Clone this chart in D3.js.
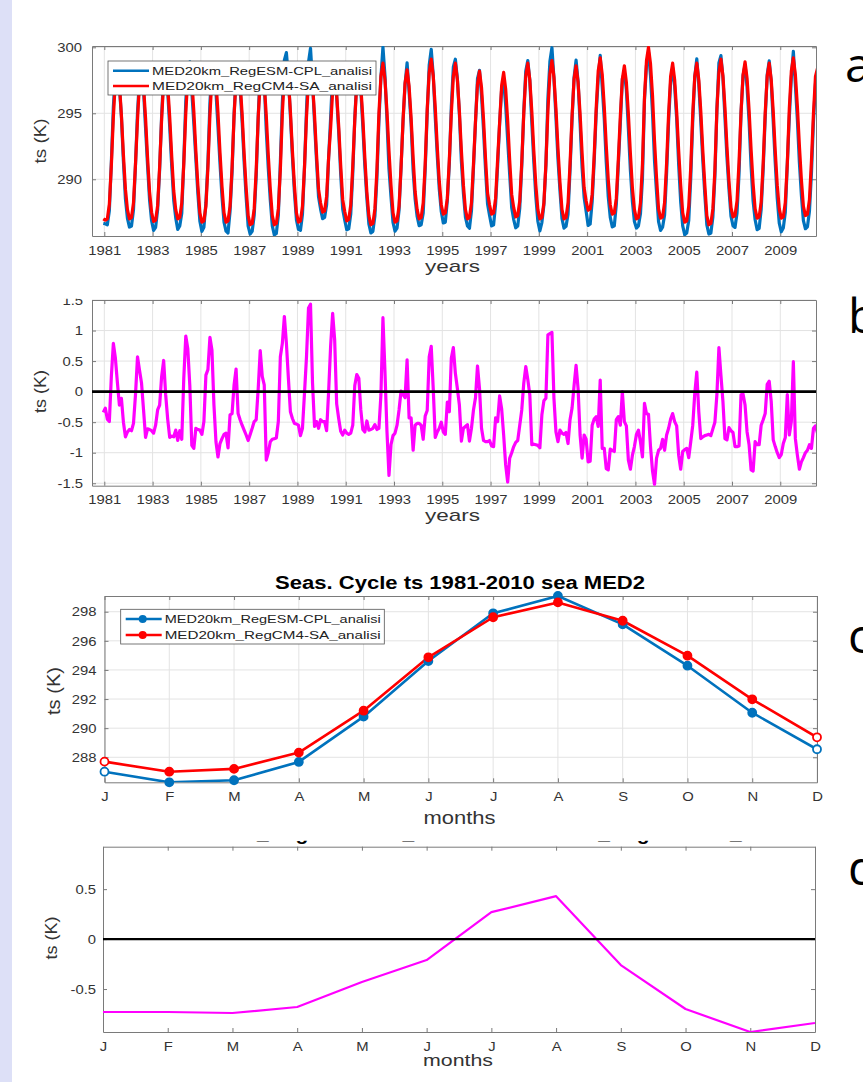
<!DOCTYPE html>
<html>
<head>
<meta charset="utf-8">
<script src="https://cdn.jsdelivr.net/npm/d3@7"></script>
<style>
    body { margin: 0; background: #fff; }
    svg { display: block; }
</style>
</head>
<body>
<svg id="fig" width="863" height="1082"></svg>
<script>
// ---- data ----
const startYear = 1981;
const yearTicks = [1981, 1983, 1985, 1987, 1989, 1991, 1993, 1995, 1997, 1999, 2001, 2003, 2005, 2007, 2009];
const monthLabels = ['J', 'F', 'M', 'A', 'M', 'J', 'J', 'A', 'S', 'O', 'N', 'D'];
const monthTicks = [1, 2, 3, 4, 5, 6, 7, 8, 9, 10, 11, 12];
const tsTicksA = [290, 295, 300];
const diffTicksB = [-1.5, -1, -0.5, 0, 0.5, 1, 1.5];
const cycleTicksC = [288, 290, 292, 294, 296, 298];
const diffTicksD = [-0.5, 0, 0.5];
const seriesNames = ['MED20km_RegESM-CPL_analisi', 'MED20km_RegCM4-SA_analisi'];
const cycleTitle = 'Seas. Cycle ts 1981-2010 sea MED2';
const diffTitle = 'MED20km_RegESM-CPL_analisi - MED20km_RegCM4-SA_analisi';
const panelLetters = ['a', 'b', 'c', 'd'];

// monthly ts (K) from Jan 1981, one row per year
const regesmTs = [
    286.66, 286.63, 286.55, 287.61, 291.30, 295.49, 298.05, 298.65, 297.03, 294.74, 291.35, 288.51,
    287.04, 286.38, 286.46, 287.68, 291.10, 295.07, 297.65, 298.44, 296.75, 293.90, 291.04, 288.43,
    286.86, 286.12, 286.35, 287.70, 290.73, 294.85, 297.91, 298.35, 296.70, 294.00, 291.02, 288.41,
    287.07, 286.20, 286.46, 287.42, 291.37, 295.91, 298.50, 298.90, 296.67, 294.22, 291.55, 288.93,
    286.82, 286.05, 286.36, 288.22, 291.26, 295.79, 298.38, 298.48, 296.63, 293.98, 291.20, 288.68,
    286.75, 286.07, 285.93, 287.57, 290.54, 294.91, 297.97, 298.24, 296.89, 294.40, 291.32, 288.64,
    286.45, 285.85, 286.05, 287.26, 290.24, 294.75, 298.17, 298.75, 297.36, 293.73, 290.85, 288.43,
    286.47, 285.78, 285.89, 287.26, 291.27, 295.79, 299.03, 299.60, 297.77, 294.82, 291.71, 289.03,
    286.92, 286.20, 286.13, 287.35, 290.87, 295.27, 298.87, 299.93, 297.39, 294.28, 291.36, 288.65,
    287.74, 287.01, 287.11, 288.06, 291.65, 294.65, 297.98, 298.55, 296.25, 293.61, 290.40, 287.74,
    286.92, 286.17, 286.25, 287.37, 290.45, 294.60, 297.58, 298.52, 296.75, 294.03, 290.99, 288.57,
    286.62, 285.93, 286.05, 287.21, 290.08, 294.40, 297.75, 300.01, 297.88, 294.50, 290.78, 288.68,
    286.73, 286.07, 286.30, 287.65, 290.91, 294.45, 297.20, 298.82, 296.62, 294.22, 290.69, 288.50,
    287.18, 286.48, 286.55, 287.42, 290.75, 294.99, 298.67, 299.84, 297.90, 294.70, 291.79, 289.25,
    287.55, 286.69, 286.75, 288.38, 291.17, 295.55, 298.52, 299.10, 297.60, 294.93, 291.34, 288.95,
    287.13, 286.46, 286.29, 287.60, 290.85, 294.30, 297.62, 298.25, 296.35, 293.75, 290.73, 288.13,
    287.25, 286.46, 286.55, 288.12, 291.01, 294.23, 296.82, 297.39, 295.65, 292.97, 290.36, 287.85,
    286.95, 286.32, 286.45, 287.80, 291.00, 295.14, 298.21, 299.00, 297.50, 294.28, 291.29, 288.68,
    286.82, 286.08, 286.72, 288.05, 291.04, 296.13, 298.95, 299.97, 297.64, 294.69, 291.53, 289.12,
    287.02, 286.30, 286.43, 287.35, 290.69, 294.53, 297.70, 299.03, 297.40, 294.24, 290.86, 288.64,
    287.57, 286.50, 286.61, 288.30, 291.35, 294.99, 297.63, 299.39, 297.02, 294.62, 291.29, 288.67,
    287.11, 286.39, 286.47, 288.09, 291.09, 294.25, 297.60, 298.11, 296.79, 293.83, 290.68, 288.31,
    286.80, 286.30, 286.47, 287.38, 290.08, 296.01, 298.64, 299.63, 297.85, 295.05, 291.38, 289.01,
    286.79, 286.12, 286.37, 287.29, 290.49, 294.40, 297.35, 298.44, 297.06, 294.59, 291.11, 288.28,
    286.47, 285.80, 285.92, 286.87, 290.08, 294.45, 297.77, 299.12, 297.22, 294.38, 291.41, 288.83,
    286.54, 285.85, 285.93, 287.14, 290.20, 295.25, 298.82, 299.37, 297.69, 294.68, 291.66, 289.26,
    287.21, 286.48, 286.35, 287.45, 290.41, 295.05, 297.86, 298.68, 296.99, 294.38, 290.97, 288.35,
    286.93, 286.18, 286.28, 287.70, 290.74, 294.64, 297.92, 298.97, 297.39, 294.36, 291.25, 288.55,
    286.67, 286.02, 286.30, 287.50, 291.15, 294.69, 297.71, 299.69, 297.18, 294.51, 291.28, 288.80,
    286.87, 286.25, 286.39, 287.58, 290.47, 294.40, 297.24, 297.72
];
const regcmTs = [
    287.0, 286.9, 287.0, 288.1, 291.05, 294.7, 297.5, 298.5, 297.25, 294.85, 291.85, 289.25,
    287.7, 287.0, 287.1, 288.2, 291.15, 294.5, 297.3, 298.3, 297.05, 294.65, 291.65, 289.05,
    287.5, 286.8, 286.9, 288.0, 290.95, 294.6, 297.4, 298.4, 297.15, 294.75, 291.75, 289.15,
    287.7, 287.0, 287.1, 288.2, 291.15, 295.0, 297.8, 298.8, 297.55, 295.15, 292.15, 289.55,
    287.45, 286.75, 286.85, 287.95, 290.9, 294.9, 297.7, 298.7, 297.45, 295.05, 292.05, 289.45,
    287.45, 286.75, 286.85, 287.95, 290.9, 294.8, 297.6, 298.6, 297.35, 294.95, 291.95, 289.35,
    287.25, 286.55, 286.65, 287.75, 290.7, 294.7, 297.5, 298.5, 297.25, 294.85, 291.85, 289.25,
    287.25, 286.55, 286.65, 287.75, 290.7, 295.0, 297.8, 298.8, 297.55, 295.15, 292.15, 289.55,
    287.45, 286.75, 286.85, 287.95, 290.9, 294.7, 297.5, 298.5, 297.25, 294.85, 291.85, 289.25,
    288.2, 287.5, 287.6, 288.7, 291.65, 293.9, 296.7, 297.7, 296.45, 294.05, 291.05, 288.45,
    287.55, 286.85, 286.95, 288.05, 291.0, 294.5, 297.3, 298.3, 297.05, 294.65, 291.65, 289.05,
    287.25, 286.55, 286.65, 287.75, 290.7, 295.0, 297.8, 298.8, 297.55, 295.15, 292.15, 289.55,
    287.45, 286.75, 286.85, 287.95, 290.9, 294.5, 297.3, 298.3, 297.05, 294.65, 291.65, 289.05,
    287.7, 287.0, 287.1, 288.2, 291.15, 295.3, 298.1, 299.1, 297.85, 295.45, 292.45, 289.85,
    288.05, 287.35, 287.45, 288.55, 291.5, 295.0, 297.8, 298.8, 297.55, 295.15, 292.15, 289.55,
    287.7, 287.0, 287.1, 288.2, 291.15, 294.4, 297.2, 298.2, 296.95, 294.55, 291.55, 288.95,
    288.05, 287.35, 287.45, 288.55, 291.5, 294.3, 297.1, 298.1, 296.85, 294.45, 291.45, 288.85,
    287.85, 287.15, 287.25, 288.35, 291.3, 295.0, 297.8, 298.8, 297.55, 295.15, 292.15, 289.55,
    287.7, 287.0, 287.1, 288.2, 291.15, 295.2, 298.0, 299.0, 297.75, 295.35, 292.35, 289.75,
    287.7, 287.0, 287.1, 288.2, 291.15, 294.8, 297.6, 298.6, 297.35, 294.95, 291.95, 289.35,
    288.35, 287.65, 287.75, 288.85, 291.8, 295.4, 298.2, 299.2, 297.95, 295.55, 292.55, 289.95,
    288.05, 287.35, 287.45, 288.55, 291.5, 294.8, 297.6, 298.6, 297.35, 294.95, 291.95, 289.35,
    287.7, 287.0, 287.1, 288.2, 291.15, 296.2, 299.0, 300.0, 298.75, 296.35, 292.9, 290.1,
    287.75, 287.05, 287.15, 288.25, 291.2, 295.0, 297.8, 298.8, 297.55, 295.15, 292.15, 289.55,
    287.45, 286.75, 286.85, 287.95, 290.9, 295.0, 297.8, 298.8, 297.55, 295.15, 292.15, 289.55,
    287.25, 286.55, 286.65, 287.75, 290.7, 295.3, 298.1, 299.1, 297.85, 295.45, 292.45, 289.85,
    287.85, 287.15, 287.25, 288.35, 291.3, 295.1, 297.9, 298.9, 297.65, 295.25, 292.25, 289.65,
    287.75, 287.05, 287.15, 288.25, 291.2, 295.0, 297.8, 298.8, 297.55, 295.15, 292.15, 289.55,
    287.75, 287.05, 287.15, 288.25, 291.2, 295.4, 298.2, 299.2, 297.95, 295.55, 292.55, 289.95,
    287.95, 287.25, 287.35, 288.45, 291.4, 295.0, 297.8, 298.4
];
// RegESM minus RegCM4 (K)
const diffTs = [
    -0.34, -0.27, -0.45, -0.49, 0.25, 0.79, 0.55, 0.15, -0.22, -0.11, -0.50, -0.74,
    -0.66, -0.62, -0.64, -0.52, -0.05, 0.57, 0.35, 0.14, -0.30, -0.75, -0.61, -0.62,
    -0.64, -0.68, -0.55, -0.30, -0.22, 0.25, 0.51, -0.05, -0.45, -0.75, -0.73, -0.74,
    -0.63, -0.80, -0.64, -0.78, 0.22, 0.91, 0.70, 0.10, -0.88, -0.93, -0.60, -0.62,
    -0.63, -0.70, -0.49, 0.27, 0.36, 0.89, 0.68, -0.22, -0.82, -1.07, -0.85, -0.77,
    -0.70, -0.68, -0.92, -0.38, -0.36, 0.11, 0.37, -0.36, -0.46, -0.55, -0.63, -0.71,
    -0.80, -0.70, -0.60, -0.49, -0.46, 0.05, 0.67, 0.25, 0.11, -1.12, -1.00, -0.82,
    -0.78, -0.77, -0.76, -0.49, 0.57, 0.79, 1.23, 0.80, 0.22, -0.33, -0.44, -0.52,
    -0.53, -0.55, -0.72, -0.60, -0.03, 0.57, 1.37, 1.43, 0.14, -0.57, -0.49, -0.60,
    -0.46, -0.49, -0.49, -0.64, 0.00, 0.75, 1.28, 0.85, -0.20, -0.44, -0.65, -0.71,
    -0.63, -0.68, -0.70, -0.68, -0.55, 0.10, 0.28, 0.22, -0.30, -0.62, -0.66, -0.48,
    -0.63, -0.62, -0.60, -0.54, -0.62, -0.60, -0.05, 1.21, 0.33, -0.65, -1.37, -0.87,
    -0.72, -0.68, -0.55, -0.30, 0.01, -0.05, -0.10, 0.52, -0.43, -0.43, -0.96, -0.55,
    -0.52, -0.52, -0.55, -0.78, -0.40, -0.31, 0.57, 0.74, 0.05, -0.75, -0.66, -0.60,
    -0.50, -0.66, -0.70, -0.17, -0.33, 0.55, 0.72, 0.30, 0.05, -0.22, -0.81, -0.60,
    -0.57, -0.54, -0.81, -0.60, -0.30, -0.10, 0.42, 0.05, -0.60, -0.80, -0.82, -0.82,
    -0.80, -0.89, -0.90, -0.43, -0.49, -0.07, -0.28, -0.71, -1.20, -1.48, -1.09, -1.00,
    -0.90, -0.83, -0.80, -0.55, -0.30, 0.14, 0.41, 0.20, -0.05, -0.87, -0.86, -0.87,
    -0.88, -0.92, -0.38, -0.15, -0.11, 0.93, 0.95, 0.97, -0.11, -0.66, -0.82, -0.63,
    -0.68, -0.70, -0.67, -0.85, -0.46, -0.27, 0.10, 0.43, 0.05, -0.71, -1.09, -0.71,
    -0.78, -1.15, -1.14, -0.55, -0.45, -0.41, -0.57, 0.19, -0.93, -0.93, -1.26, -1.28,
    -0.94, -0.96, -0.98, -0.46, -0.41, -0.55, 0.00, -0.49, -0.56, -1.12, -1.27, -1.04,
    -0.90, -0.70, -0.63, -0.82, -1.07, -0.19, -0.36, -0.37, -0.90, -1.30, -1.52, -1.09,
    -0.96, -0.93, -0.78, -0.96, -0.71, -0.60, -0.45, -0.36, -0.49, -0.56, -1.04, -1.27,
    -0.98, -0.95, -0.93, -1.08, -0.82, -0.55, -0.03, 0.32, -0.33, -0.77, -0.74, -0.72,
    -0.71, -0.70, -0.72, -0.61, -0.50, -0.05, 0.72, 0.27, -0.16, -0.77, -0.79, -0.59,
    -0.64, -0.67, -0.90, -0.90, -0.89, -0.05, -0.04, -0.22, -0.66, -0.87, -1.28, -1.30,
    -0.82, -0.87, -0.87, -0.55, -0.46, -0.36, 0.12, 0.17, -0.16, -0.79, -0.90, -1.00,
    -1.08, -1.03, -0.85, -0.75, -0.05, -0.71, -0.49, 0.49, -0.77, -1.04, -1.27, -1.15,
    -1.08, -1.00, -0.96, -0.87, -0.93, -0.60, -0.56, -0.68
];

// 1981-2010 seasonal cycle
const regesmCycle = [287.01, 286.28, 286.42, 287.68, 290.79, 294.61, 297.89, 299.08, 297.13, 294.29, 291.06, 288.55];
const regcmCycle = [287.70, 287.01, 287.20, 288.32, 291.20, 294.87, 297.62, 298.64, 297.38, 294.98, 291.98, 289.37];
const diffCycle = [-0.73, -0.73, -0.74, -0.68, -0.43, -0.21, 0.27, 0.43, -0.26, -0.70, -0.93, -0.84];

// ---- drawing ----
const FONT = '"Liberation Sans", Arial, Helvetica, sans-serif';
const AXIS_COLOR = '#7a7a7a';
const GRID_COLOR = '#e3e3e3';
const TEXT_COLOR = '#333';
const BLUE = '#0072bd';
const RED = '#ff0000';
const MAGENTA = '#ff00ff';
const monthTime = i => startYear + (i - 0.5) / 12;

const svg = d3.select('#fig').attr('font-family', FONT);
const defs = svg.append('defs');

svg.append('rect')
    .attr('x', 0).attr('y', 0)
    .attr('width', 12).attr('height', 1082)
    .attr('fill', '#dde0f7');

// stretch text horizontally, the picture is wider than tall
function stretch(sel, k) {
    sel.each(function () {
        const w = this.getComputedTextLength();
        d3.select(this).attr('textLength', w * k).attr('lengthAdjust', 'spacingAndGlyphs');
    });
}

class Panel {
    constructor(_config) {
        this.config = _config;
        this.initVis();
    }

    initVis() {
        let vis = this;
        const c = vis.config;
        vis.xScale = d3.scaleLinear().domain(c.xDomain).range([c.left, c.right]);
        vis.yScale = d3.scaleLinear().domain(c.yDomain).range([c.bottom, c.top]);

        vis.g = svg.append('g');
        if (c.cutTop) {
            defs.append('clipPath').attr('id', c.id + '-cut')
                .append('rect').attr('x', 0).attr('y', c.cutTop).attr('width', 863).attr('height', 1082);
            vis.g.attr('clip-path', `url(#${c.id}-cut)`);
        }
        defs.append('clipPath').attr('id', c.id + '-plot')
            .append('rect')
            .attr('x', c.left).attr('y', c.top)
            .attr('width', c.right - c.left).attr('height', c.bottom - c.top);

        vis.g.append('rect')
            .attr('x', c.left).attr('y', c.top)
            .attr('width', c.right - c.left).attr('height', c.bottom - c.top)
            .attr('fill', '#fff');

        if (c.grid) {
            vis.g.append('g').selectAll('line').data(c.xTicks).join('line')
                .attr('x1', d => vis.xScale(d)).attr('x2', d => vis.xScale(d))
                .attr('y1', c.top).attr('y2', c.bottom)
                .attr('stroke', GRID_COLOR);
            vis.g.append('g').selectAll('line').data(c.yTicks).join('line')
                .attr('x1', c.left).attr('x2', c.right)
                .attr('y1', d => vis.yScale(d)).attr('y2', d => vis.yScale(d))
                .attr('stroke', GRID_COLOR);
        }

        vis.drawAxes();
        vis.plot = vis.g.append('g').attr('clip-path', `url(#${c.id}-plot)`);
    }

    drawAxes() {
        let vis = this;
        const c = vis.config;
        const style = (ax) => {
            ax.attr('font-family', FONT).attr('font-size', 13);
            ax.select('.domain').attr('stroke', AXIS_COLOR);
            ax.selectAll('.tick line').attr('stroke', AXIS_COLOR);
            ax.selectAll('.tick text').attr('fill', TEXT_COLOR);
            stretch(ax.selectAll('.tick text'), 1.14);
        };
        vis.g.append('g')
            .attr('transform', `translate(0,${c.bottom})`)
            .call(d3.axisBottom(vis.xScale).tickValues(c.xTicks).tickFormat(c.xFormat)
                .tickSizeInner(-4).tickSizeOuter(0).tickPadding(c.xPad))
            .call(style);
        vis.g.append('g')
            .attr('transform', `translate(0,${c.top})`)
            .call(d3.axisTop(vis.xScale).tickValues(c.xTicks).tickFormat('')
                .tickSizeInner(-4).tickSizeOuter(0))
            .call(style);
        vis.g.append('g')
            .attr('transform', `translate(${c.left},0)`)
            .call(d3.axisLeft(vis.yScale).tickValues(c.yTicks).tickFormat(d => String(d))
                .tickSizeInner(-4).tickSizeOuter(0).tickPadding(c.yPad))
            .call(style);
        vis.g.append('g')
            .attr('transform', `translate(${c.right},0)`)
            .call(d3.axisRight(vis.yScale).tickValues(c.yTicks).tickFormat('')
                .tickSizeInner(-4).tickSizeOuter(0))
            .call(style);

        vis.g.append('text')
            .attr('x', c.xLabel.x).attr('y', c.xLabel.y)
            .attr('text-anchor', 'middle')
            .attr('font-size', c.xLabel.size)
            .attr('fill', TEXT_COLOR)
            .attr('textLength', c.xLabel.width).attr('lengthAdjust', 'spacingAndGlyphs')
            .text(c.xLabel.text);
        vis.g.append('text')
            .attr('transform', `translate(${c.yLabel.x},${c.yLabel.y}) rotate(-90)`)
            .attr('text-anchor', 'middle')
            .attr('font-size', c.yLabel.size)
            .attr('fill', TEXT_COLOR)
            .attr('textLength', c.yLabel.width).attr('lengthAdjust', 'spacingAndGlyphs')
            .text('ts (K)');
    }

    line(values, xOf, color, width) {
        let vis = this;
        const gen = d3.line()
            .x((d, i) => vis.xScale(xOf(i)))
            .y(d => vis.yScale(d));
        vis.plot.append('path')
            .datum(values)
            .attr('d', gen)
            .attr('fill', 'none')
            .attr('stroke', color)
            .attr('stroke-width', width)
            .attr('stroke-linejoin', 'round');
    }

    zeroLine(width) {
        let vis = this;
        vis.plot.append('line')
            .attr('x1', vis.config.left).attr('x2', vis.config.right)
            .attr('y1', vis.yScale(0)).attr('y2', vis.yScale(0))
            .attr('stroke', '#000')
            .attr('stroke-width', width);
    }

    markers(values, color) {
        let vis = this;
        vis.g.append('g').selectAll('circle').data(values).join('circle')
            .attr('cx', (d, i) => vis.xScale(monthTicks[i]))
            .attr('cy', d => vis.yScale(d))
            .attr('r', 4)
            .attr('fill', (d, i) => (i === 0 || i === values.length - 1) ? '#fff' : color)
            .attr('stroke', color)
            .attr('stroke-width', 1.8);
    }

    legend(box, rows, colors, withMarker) {
        let vis = this;
        const lg = vis.g.append('g');
        lg.append('rect')
            .attr('x', box.x).attr('y', box.y)
            .attr('width', box.w).attr('height', box.h)
            .attr('fill', '#fff').attr('stroke', '#555').attr('stroke-width', 0.8);
        seriesNames.forEach((name, k) => {
            const yy = rows[k];
            lg.append('line')
                .attr('x1', box.x + 5).attr('x2', box.x + 41)
                .attr('y1', yy).attr('y2', yy)
                .attr('stroke', colors[k]).attr('stroke-width', 2.6);
            if (withMarker) {
                lg.append('circle')
                    .attr('cx', box.x + 22).attr('cy', yy).attr('r', 4)
                    .attr('fill', colors[k]);
            }
            lg.append('text')
                .attr('x', box.x + 44).attr('y', yy + 4)
                .attr('font-size', 11.5)
                .attr('fill', '#222')
                .attr('textLength', box.textW).attr('lengthAdjust', 'spacingAndGlyphs')
                .text(name);
        });
    }
}

// a: monthly ts of both runs
const panelA = new Panel({
    id: 'pa', left: 92, right: 816, top: 46, bottom: 236,
    xDomain: [1980.49, 2010.48], yDomain: [285.7, 300.1],
    xTicks: yearTicks, yTicks: tsTicksA, xFormat: d => String(d),
    grid: true, xPad: 9.5, yPad: 10,
    xLabel: { text: 'years', x: 452.5, y: 272, size: 17, width: 55 },
    yLabel: { x: 45.5, y: 141, size: 17, width: 45 }
});
panelA.line(regesmTs, monthTime, BLUE, 3.2);
panelA.line(regcmTs, monthTime, RED, 3.2);
panelA.legend({ x: 108, y: 61, w: 268, h: 34, textW: 220 }, [70.7, 86], [BLUE, RED], false);

// b: monthly difference
const panelB = new Panel({
    id: 'pb', left: 92, right: 816, top: 300, bottom: 485.7,
    xDomain: [1980.49, 2010.48], yDomain: [-1.54, 1.5],
    xTicks: yearTicks, yTicks: diffTicksB, xFormat: d => String(d),
    grid: true, xPad: 9.5, yPad: 9, cutTop: 298.8,
    xLabel: { text: 'years', x: 452.5, y: 521, size: 17, width: 55 },
    yLabel: { x: 45.5, y: 391.5, size: 17, width: 43 }
});
panelB.line(diffTs, monthTime, MAGENTA, 3.2);
panelB.zeroLine(2.6);

// c: seasonal cycle
const panelC = new Panel({
    id: 'pc', left: 104.5, right: 817, top: 596, bottom: 782.3,
    xDomain: [1, 12], yDomain: [286.28, 299.08],
    xTicks: monthTicks, yTicks: cycleTicksC, xFormat: d => monthLabels[d - 1],
    grid: true, xPad: 9, yPad: 8,
    xLabel: { text: 'months', x: 459.5, y: 824, size: 18, width: 72 },
    yLabel: { x: 59.5, y: 691, size: 18, width: 48 }
});
panelC.line(regesmCycle, i => monthTicks[i], BLUE, 2.6);
panelC.line(regcmCycle, i => monthTicks[i], RED, 2.6);
panelC.markers(regesmCycle, BLUE);
panelC.markers(regcmCycle, RED);
panelC.legend({ x: 120.7, y: 609.3, w: 263.6, h: 34.7, textW: 216 }, [619, 635], [BLUE, RED], true);
svg.append('text')
    .attr('x', 460).attr('y', 589)
    .attr('text-anchor', 'middle')
    .attr('font-size', 18).attr('font-weight', 'bold')
    .attr('fill', '#000')
    .attr('textLength', 370).attr('lengthAdjust', 'spacingAndGlyphs')
    .text(cycleTitle);

// d: seasonal cycle difference
const panelD = new Panel({
    id: 'pd', left: 103, right: 815, top: 846.7, bottom: 1032,
    xDomain: [1, 12], yDomain: [-0.93, 0.925],
    xTicks: monthTicks, yTicks: diffTicksD, xFormat: d => monthLabels[d - 1],
    grid: false, xPad: 9.5, yPad: 7,
    xLabel: { text: 'months', x: 458, y: 1066, size: 17, width: 70 },
    yLabel: { x: 57, y: 938, size: 17, width: 43 }
});
panelD.line(diffCycle, i => monthTicks[i], MAGENTA, 2.2);
panelD.zeroLine(2.4);

// title of d is cropped away, only the lowest pixels are left
defs.append('clipPath').attr('id', 'cut-title')
    .append('rect').attr('x', 0).attr('y', 840.8).attr('width', 863).attr('height', 5);
svg.append('text')
    .attr('clip-path', 'url(#cut-title)')
    .attr('x', 156.8).attr('y', 839.5)
    .attr('font-size', 19).attr('font-weight', 'bold')
    .attr('fill', '#000')
    .attr('textLength', 650).attr('lengthAdjust', 'spacingAndGlyphs')
    .text(diffTitle);

// panel letters, cut by the right edge
const letterPos = [[845, 82], [848, 333], [848, 653], [848, 885]];
svg.append('g').selectAll('text').data(panelLetters).join('text')
    .attr('x', (d, i) => letterPos[i][0])
    .attr('y', (d, i) => letterPos[i][1])
    .attr('font-family', '"Open Sans", "Noto Sans", sans-serif')
    .attr('font-size', 48)
    .attr('fill', '#000')
    .text(d => d);
</script>
</body>
</html>
